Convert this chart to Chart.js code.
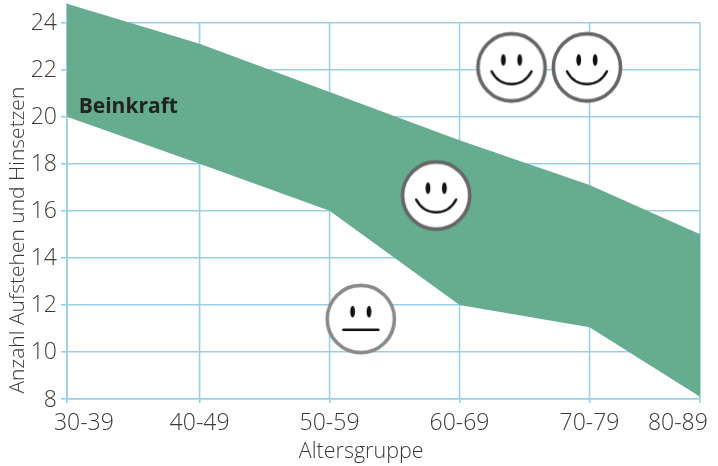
<!DOCTYPE html>
<html lang="de">
<head>
<meta charset="utf-8">
<title>Beinkraft</title>
<style>
  html, body { margin: 0; padding: 0; background: #fff; }
  #wrap { width: 718px; height: 466px; }
</style>
<script src="https://cdn.jsdelivr.net/npm/chart.js@4/dist/chart.umd.min.js"></script>
</head>
<body>
<div id="wrap"><canvas id="grafica"></canvas></div>
<script>
// age groups and where each one sits on the age axis
const categories = ["30-39", "40-49", "50-59", "60-69", "70-79", "80-89"];
const gridAges = [29.8, 40, 50, 60, 70, 78.5];
const labelAges = [31.1, 40, 50, 60, 70, 76.8];

// sit-to-stand counts, edges of the band
const upperValues = [24.8, 23.1, 21.05, 19, 17.1, 15];
const lowerValues = [20, 18, 16, 12, 11.05, 8.1];

// faces
const faceAges = [64, 69.8, 58.2, 52.4];
const faceCounts = [22.1, 22.1, 16.65, 11.4];
const faceKinds = ["smile", "smile", "smile", "neutral"];

const bandLabel = "Beinkraft";
const bandLabelAge = 30.7;
const bandLabelCount = 20.4;

const gridColor = "#9bcfe8";
const bandColor = "#66ac8f";
const textColor = "#3a3a3a";
const fontFamily = "'Open Sans', sans-serif";

function makeFace(kind) {
    const size = 74, c = size / 2;
    const cv = document.createElement("canvas");
    cv.width = size; cv.height = size;
    const ctx = cv.getContext("2d");
    ctx.beginPath();
    ctx.arc(c, c, 33.6, 0, Math.PI * 2);
    ctx.fillStyle = "#fff";
    ctx.fill();
    ctx.lineWidth = 3.6;
    ctx.strokeStyle = kind === "smile" ? "#666" : "#8a8a8a";
    ctx.stroke();
    // eyes
    ctx.fillStyle = "#111";
    [-8.2, 8.2].forEach(dx => {
        ctx.beginPath();
        ctx.ellipse(c + dx, c - 7.4, 2.4, 5.8, 0, 0, Math.PI * 2);
        ctx.fill();
    });
    // mouth
    ctx.strokeStyle = "#111";
    ctx.lineWidth = 2.5;
    ctx.lineCap = "round";
    ctx.beginPath();
    if (kind === "smile") {
        ctx.moveTo(c - 20, c + 4);
        ctx.bezierCurveTo(c - 11, c + 21, c + 11, c + 21, c + 20, c + 4);
    } else {
        ctx.moveTo(c - 17.5, c + 10.7);
        ctx.lineTo(c + 17.5, c + 10.7);
    }
    ctx.stroke();
    return cv;
}

function toPoints(xs, ys) {
    return xs.map((x, i) => ({ x: x, y: ys[i] }));
}

// vertical grid stops at the 24 line while the band runs on above it
const verticalGrid = {
    id: "verticalGrid",
    beforeDatasetsDraw(chart) {
        const ctx = chart.ctx, sx = chart.scales.x, sy = chart.scales.y;
        ctx.save();
        ctx.strokeStyle = gridColor;
        ctx.lineWidth = 1.6;
        gridAges.forEach(a => {
            const px = sx.getPixelForValue(a);
            ctx.beginPath();
            ctx.moveTo(px, sy.getPixelForValue(24));
            ctx.lineTo(px, sy.getPixelForValue(8));
            ctx.stroke();
        });
        ctx.restore();
    }
};

// band caption, placed in data coordinates
const bandCaption = {
    id: "bandCaption",
    afterDatasetsDraw(chart) {
        const ctx = chart.ctx;
        ctx.save();
        ctx.font = "bold 21px " + fontFamily;
        ctx.fillStyle = "#222";
        ctx.textBaseline = "middle";
        ctx.fillText(bandLabel, chart.scales.x.getPixelForValue(bandLabelAge), chart.scales.y.getPixelForValue(bandLabelCount));
        ctx.restore();
    }
};

new Chart(document.getElementById("grafica"), {
    type: "scatter",
    plugins: [verticalGrid, bandCaption],
    data: {
        datasets: [
            {
                label: "oben", data: toPoints(gridAges, upperValues), showLine: true,
                fill: "+1", backgroundColor: bandColor, borderWidth: 0, pointRadius: 0
            },
            {
                label: "unten", data: toPoints(gridAges, lowerValues), showLine: true,
                fill: false, borderWidth: 0, pointRadius: 0
            },
            {
                label: "Gesichter", data: toPoints(faceAges, faceCounts), showLine: false, order: -1,
                pointStyle: faceKinds.map(makeFace), pointRadius: 37
            }
        ]
    },
    options: {
        responsive: true,
        maintainAspectRatio: false,
        animation: false,
        layout: { autoPadding: false, padding: { top: 3.8, right: 18, left: 0, bottom: 0 } },
        plugins: { legend: { display: false }, tooltip: { enabled: false } },
        scales: {
            x: {
                type: "linear", position: "bottom", min: gridAges[0], max: gridAges[5], weight: 1,
                afterBuildTicks: s => { s.ticks = gridAges.map(v => ({ value: v })); },
                afterFit: s => { s.height = 5; },
                ticks: { display: false },
                grid: { color: gridColor, lineWidth: 1.6, tickLength: 4, tickColor: gridColor, drawOnChartArea: false },
                border: { color: gridColor, width: 1.6 }
            },
            xLabels: {
                type: "linear", position: "bottom", min: gridAges[0], max: gridAges[5], weight: 2,
                afterBuildTicks: s => { s.ticks = labelAges.map(v => ({ value: v })); },
                afterFit: s => { s.height = 62; },
                ticks: {
                    autoSkip: false, maxRotation: 0, padding: 6,
                    color: textColor, font: { family: fontFamily, size: 23, weight: 300 },
                    callback: (v, i) => categories[i]
                },
                grid: { display: false, drawTicks: false },
                border: { display: false },
                title: {
                    display: true, text: "Altersgruppe" + "\u00a0".repeat(8), color: textColor,
                    padding: { top: 0, bottom: 1 },
                    font: { family: fontFamily, size: 21.5, weight: 300 }
                }
            },
            y: {
                min: 8, max: 24.8,
                afterFit: s => { s.width = 67; s.paddingTop = 0; s.paddingBottom = 0; },
                ticks: {
                    stepSize: 2, includeBounds: false, padding: 4, labelOffset: 1, color: textColor,
                    font: { family: fontFamily, size: 23, weight: 300 }
                },
                grid: { color: gridColor, lineWidth: 1.6, tickLength: 6, tickColor: gridColor },
                border: { color: gridColor, width: 1.6 },
                title: {
                    display: true, text: "\u00a0Anzahl Aufstehen und Hinsetzen", align: "start", color: textColor,
                    padding: { top: 5, bottom: 0 },
                    font: { family: fontFamily, size: 21, weight: 300 }
                }
            }
        }
    }
});
</script>
</body>
</html>
